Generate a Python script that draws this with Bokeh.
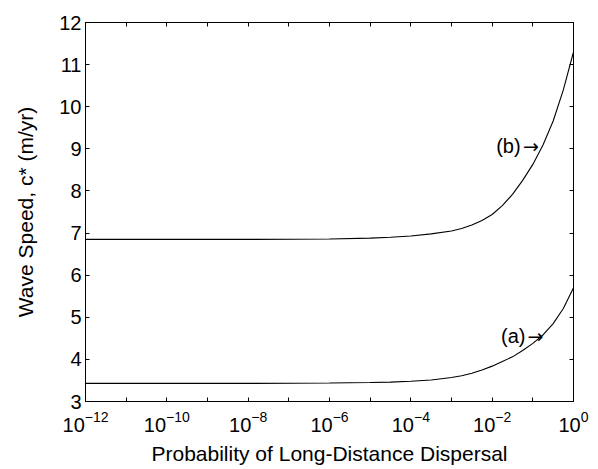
from bokeh.plotting import figure
from bokeh.models import Range1d, LogAxis, LinearAxis, FixedTicker, ColumnDataSource, CustomJSTickFormatter
from bokeh.core.properties import value
from bokeh.embed import file_html
from bokeh.resources import INLINE

# log10 of probability of long-distance dispersal
log_p = [-12, -10, -8, -6, -5, -4.5, -4, -3.5, -3, -2.75, -2.5, -2.25, -2, -1.75,
         -1.5, -1.25, -1, -0.75, -0.5, -0.25, 0]
speed_a = [3.43, 3.43, 3.43, 3.44, 3.45, 3.46, 3.48, 3.51, 3.57, 3.61, 3.67, 3.75, 3.84, 3.95,
           4.06, 4.21, 4.38, 4.58, 4.85, 5.21, 5.70]
speed_b = [6.85, 6.85, 6.85, 6.86, 6.88, 6.90, 6.93, 6.98, 7.05, 7.11, 7.19, 7.30, 7.44, 7.65,
           7.92, 8.25, 8.63, 9.09, 9.66, 10.40, 11.30]

label_text = ["(b)", "(a)"]
label_logx = [-1.30, -1.18]
label_y = [9.07, 4.56]
arrow_text = ["\u2192", "\u2192"]
arrow_logx = [-1.24, -1.13]

major_x = [1e-12, 1e-10, 1e-8, 1e-6, 1e-4, 1e-2, 1e0]
minor_x = [1e-11, 1e-9, 1e-7, 1e-5, 1e-3, 1e-1]
y_ticks = [3, 4, 5, 6, 7, 8, 9, 10, 11, 12]

FONT = "Liberation Sans"
W, H = 596, 467

p = figure(width=W, height=H, x_axis_type="log",
           x_range=Range1d(1e-12, 1), y_range=Range1d(3, 12),
           output_backend="svg", toolbar_location=None,
           min_border_left=85, min_border_right=W - 573, min_border_top=22,
           min_border_bottom=H - 409)

src_a = ColumnDataSource(dict(x=[10 ** v for v in log_p], y=speed_a))
src_b = ColumnDataSource(dict(x=[10 ** v for v in log_p], y=speed_b))
p.line("x", "y", source=src_a, line_color="black", line_width=1.1)
p.line("x", "y", source=src_b, line_color="black", line_width=1.1)

p.text(x=[10 ** v for v in label_logx], y=label_y, text=label_text,
       text_align="right", text_baseline="middle",
       text_font=value(FONT), text_font_size="20px", text_color="black")
p.text(x=[10 ** v for v in arrow_logx], y=label_y, text=arrow_text,
       text_align="left", text_baseline="middle",
       text_font=value("DejaVu Sans"), text_font_size="19px", text_color="black")

p.xgrid.visible = False
p.ygrid.visible = False
p.outline_line_color = "black"
p.outline_line_width = 1
p.background_fill_color = "white"
p.border_fill_color = "white"

def style(ax, show_labels=True):
    ax.major_tick_in = 4
    ax.major_tick_out = 0
    ax.minor_tick_in = 4
    ax.minor_tick_out = 0
    ax.axis_line_color = "black"
    ax.major_tick_line_color = "black"
    ax.minor_tick_line_color = "black"
    ax.major_label_text_font = FONT
    ax.major_label_text_color = "black"
    if show_labels:
        ax.major_label_text_font_size = "20px"
        ax.major_label_standoff = 5
    else:
        ax.formatter = CustomJSTickFormatter(code="return ' ';")
        ax.major_label_text_font_size = "1px"
        ax.major_label_text_alpha = 0
        ax.major_label_standoff = 0
    ax.axis_label_text_font = FONT
    ax.axis_label_text_font_style = "normal"
    ax.axis_label_text_font_size = "21px"
    ax.axis_label_text_color = "black"

p.xaxis.ticker = FixedTicker(ticks=major_x, minor_ticks=minor_x)
p.yaxis.ticker = FixedTicker(ticks=y_ticks)
style(p.xaxis[0])
style(p.yaxis[0])
p.xaxis[0].major_label_standoff = 9
p.yaxis[0].major_label_standoff = 4
p.xaxis.axis_label = "Probability of Long-Distance Dispersal"
p.yaxis.axis_label = "Wave Speed, c* (m/yr)"
p.xaxis.axis_label_standoff = 7
p.yaxis.axis_label_standoff = 19

top = LogAxis(ticker=FixedTicker(ticks=major_x, minor_ticks=minor_x))
style(top, False)
p.add_layout(top, "above")
right = LinearAxis(ticker=FixedTicker(ticks=y_ticks))
style(right, False)
p.add_layout(right, "right")

open("out.html", "w").write(file_html(p, INLINE))
